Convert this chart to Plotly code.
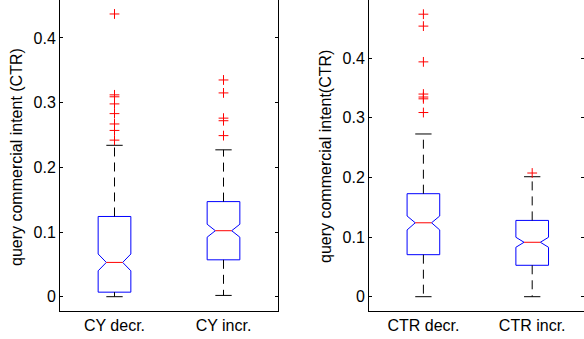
import plotly.graph_objects as go

# ---------------- data ----------------
left_categories = ["CY decr.", "CY incr."]
left_q1 = [0.007, 0.057]
left_median = [0.053, 0.102]
left_q3 = [0.124, 0.147]
left_lower = [0.0, 0.002]
left_upper = [0.234, 0.227]
left_notch_low = [0.040, 0.092]
left_notch_high = [0.066, 0.112]
left_outliers = [
    [0.437, 0.312, 0.309, 0.298, 0.283, 0.267, 0.257, 0.242],
    [0.335, 0.315, 0.276, 0.272, 0.249],
]
left_ylabel = "query commercial intent (CTR)"

right_categories = ["CTR decr.", "CTR incr."]
right_q1 = [0.0705, 0.0527]
right_median = [0.124, 0.0913]
right_q3 = [0.1728, 0.128]
right_lower = [0.0, 0.0]
right_upper = [0.273, 0.2013]
right_notch_low = [0.112, 0.0829]
right_notch_high = [0.1354, 0.0997]
right_outliers = [
    [0.474, 0.454, 0.394, 0.340, 0.335, 0.332, 0.309],
    [0.2075],
]
right_ylabel = "query commercial intent(CTR)"

ytick_vals = [0, 0.1, 0.2, 0.3, 0.4]
ytick_text = ["0", "0.1", "0.2", "0.3", "0.4"]

# ---------------- style ----------------
FONT = "Liberation Sans, Arial, Helvetica, sans-serif"
W, H = 584, 339
HALF = 0.15  # half box width in x units

fig = go.Figure()


def add_boxes(xa, ya, cats, q1, med, q3, lo, hi, nlo, nhi, outs):
    for i in range(len(cats)):
        c = i + 1
        # notched box outline
        bx = [c - HALF, c - HALF, c - HALF / 2, c - HALF, c - HALF,
              c + HALF, c + HALF, c + HALF / 2, c + HALF, c + HALF, c - HALF]
        by = [q1[i], nlo[i], med[i], nhi[i], q3[i],
              q3[i], nhi[i], med[i], nlo[i], q1[i], q1[i]]
        fig.add_trace(go.Scatter(x=bx, y=by, mode="lines", xaxis=xa, yaxis=ya,
                                 line=dict(color="#0000ff", width=1),
                                 hoverinfo="skip", showlegend=False))
        # median
        fig.add_trace(go.Scatter(x=[c - HALF / 2, c + HALF / 2], y=[med[i], med[i]],
                                 mode="lines", xaxis=xa, yaxis=ya,
                                 line=dict(color="#ff0000", width=1),
                                 hoverinfo="skip", showlegend=False))
        # whiskers (dashed)
        fig.add_trace(go.Scatter(x=[c, c, None, c, c],
                                 y=[q3[i], hi[i], None, q1[i], lo[i]],
                                 mode="lines", xaxis=xa, yaxis=ya,
                                 line=dict(color="#000000", width=1, dash="9px,6px"),
                                 hoverinfo="skip", showlegend=False))
        # caps
        fig.add_trace(go.Scatter(x=[c - HALF / 2, c + HALF / 2, None, c - HALF / 2, c + HALF / 2],
                                 y=[hi[i], hi[i], None, lo[i], lo[i]],
                                 mode="lines", xaxis=xa, yaxis=ya,
                                 line=dict(color="#000000", width=1),
                                 hoverinfo="skip", showlegend=False))
        # outliers
        fig.add_trace(go.Scatter(x=[c] * len(outs[i]), y=outs[i], mode="markers",
                                 xaxis=xa, yaxis=ya,
                                 marker=dict(symbol="cross-thin", size=7,
                                             line=dict(color="#ff0000", width=1)),
                                 hoverinfo="skip", showlegend=False))


add_boxes("x", "y", left_categories, left_q1, left_median, left_q3, left_lower,
          left_upper, left_notch_low, left_notch_high, left_outliers)
add_boxes("x2", "y2", right_categories, right_q1, right_median, right_q3, right_lower,
          right_upper, right_notch_low, right_notch_high, right_outliers)

xcommon = dict(showline=True, linecolor="black", linewidth=1, mirror=True,
               ticks="", showgrid=False, zeroline=False, automargin=False,
               tickfont=dict(family=FONT, size=16, color="black"))
ycommon = dict(showline=True, linecolor="black", linewidth=1, mirror="ticks",
               ticks="inside", ticklen=3, tickcolor="black", showgrid=False,
               zeroline=False, tickvals=ytick_vals, ticktext=ytick_text,
               automargin=False,
               tickfont=dict(family=FONT, size=16, color="black"))

fig.update_layout(
    width=W, height=H,
    margin=dict(l=0, r=0, t=0, b=28, pad=0),
    paper_bgcolor="white", plot_bgcolor="white",
    xaxis=dict(domain=[60 / W, 278 / W], range=[0.5, 2.5],
               tickvals=[1, 2], ticktext=left_categories, **xcommon),
    yaxis=dict(domain=[0, 1], range=[-0.0221, 0.4586], anchor="x", **ycommon),
    xaxis2=dict(domain=[369 / W, 1], range=[0.5, 0.5 + 215 / 108.8],
                tickvals=[1, 2], ticktext=right_categories, anchor="y2", **xcommon),
    yaxis2=dict(domain=[0, 1], range=[-0.024, 0.4978], anchor="x2", **ycommon),
    annotations=[
        dict(text=left_ylabel, xref="paper", yref="paper", x=17 / W, y=1 - 157 / 311,
             xanchor="center", yanchor="middle", textangle=-90, showarrow=False,
             font=dict(family=FONT, size=16, color="black")),
        dict(text=right_ylabel, xref="paper", yref="paper", x=325 / W, y=1 - 156 / 311,
             xanchor="center", yanchor="middle", textangle=-90, showarrow=False,
             font=dict(family=FONT, size=16, color="black")),
    ],
)

fig.write_html(
    "out.html",
    config={"displayModeBar": False},
    post_script="document.body.style.margin='0';document.body.style.overflow='hidden';",
)
